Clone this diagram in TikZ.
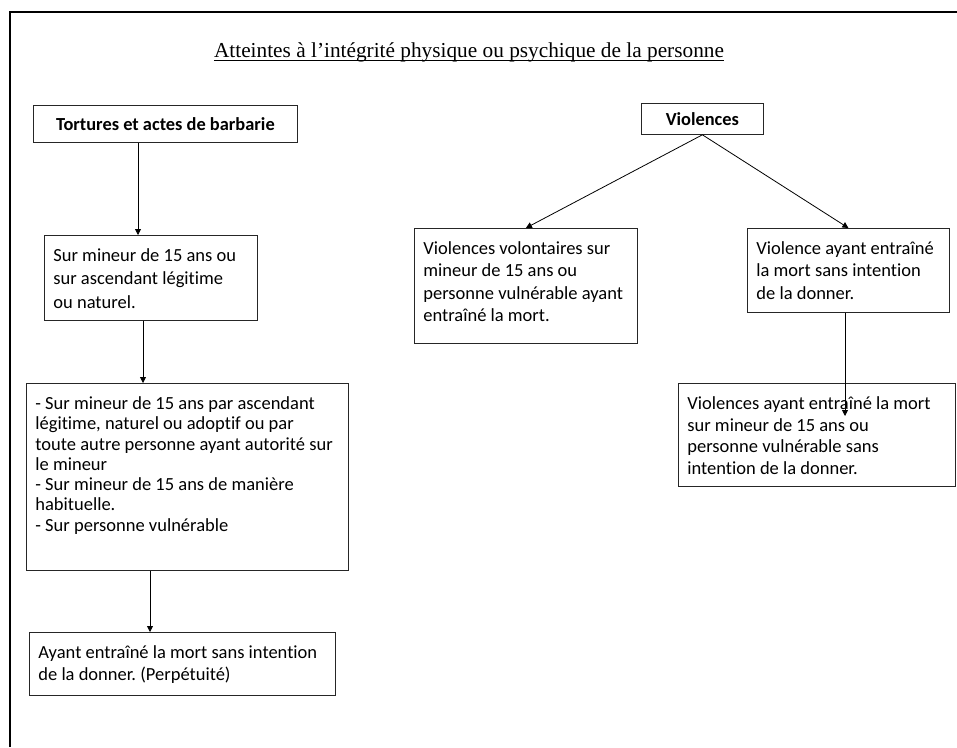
\documentclass[tikz,border=0pt]{standalone}
\usepackage{fontspec}
\setmainfont{Carlito}[Ligatures={NoCommon}]
\newfontfamily\titlefont{Liberation Serif}
\usetikzlibrary{arrows.meta}
\frenchspacing
\newcommand\bxtext[4]{\parbox[c][#2][t]{#1}{\fontsize{18.5}{#3}\selectfont\vspace{12pt}\rule{0pt}{14pt}#4}}
\tikzset{
  box/.style={draw=black!85, line width=0.8pt, anchor=north west, inner ysep=0pt, inner xsep=9pt, align=left},
  headbox/.style={draw=black!85, line width=0.8pt, anchor=north west, inner sep=0pt, align=center,
    font=\fontsize{18.4}{20}\selectfont\bfseries},
  arr/.style={draw=black, line width=0.8pt, -{Triangle[length=6pt,width=6pt]}},
}
\begin{document}
\begin{tikzpicture}[x=1pt,y=-1pt]
\useasboundingbox (0,0) rectangle (957,747);
\draw[line width=2.5pt] (10,747) -- (10,12) -- (957,12);
\node[font=\titlefont\fontsize{21.3}{24}\selectfont, inner sep=0pt, anchor=base] (title) at (469,57) {Atteintes à l’intégrité physique ou psychique de la personne};
\draw[line width=0.9pt] ([yshift=-3pt]title.base west) -- ([yshift=-3pt]title.base east);

\node[headbox, minimum width=264pt, minimum height=37pt] (b1) at (33,105) {Tortures et actes de barbarie};
\node[box] (b2) at (44,235) {\bxtext{195pt}{85pt}{23.3}{Sur mineur de 15 ans ou\\ sur ascendant légitime\\ ou naturel.}};
\node[box] (b3) at (26,383) {\bxtext{304pt}{187pt}{20.3}{- Sur mineur de 15 ans par ascendant\\ légitime, naturel ou adoptif ou par\\ toute autre personne ayant autorité sur\\ le mineur\\ - Sur mineur de 15 ans de manière\\ habituelle.\\ - Sur personne vulnérable}};
\node[box] (b4) at (29,632) {\bxtext{288pt}{63pt}{21.7}{Ayant entraîné la mort sans intention\\ de la donner. (Perpétuité)}};

\node[headbox, minimum width=122pt, minimum height=31pt] (v) at (641,103) {Violences};
\node[box] (b5) at (414,228) {\bxtext{205pt}{115pt}{22.4}{Violences volontaires sur\\ mineur de 15 ans ou\\ personne vulnérable ayant\\ entraîné la mort.}};
\node[box] (b6) at (747,228) {\bxtext{184pt}{84pt}{22.5}{Violence ayant entraîné\\ la mort sans intention\\ de la donner.}};
\node[box] (b7) at (678,383) {\bxtext{259pt}{103pt}{21.7}{Violences ayant entraîné la mort\\ sur mineur de 15 ans ou\\ personne vulnérable sans\\ intention de la donner.}};

\coordinate (x1) at (138,0);
\coordinate (x2) at (143,0);
\coordinate (x3) at (150,0);
\coordinate (x4) at (845,0);
\coordinate (e4) at (845,416);
\draw[arr] (b1.south -| x1) -- (b2.north -| x1);
\draw[arr] (b2.south -| x2) -- (b3.north -| x2);
\draw[arr] (b3.south -| x3) -- (b4.north -| x3);
\draw[arr] (v.south) -- (b5.north);
\draw[arr] (v.south) -- (b6.north);
\draw[arr] (b6.south -| x4) -- (e4);
\end{tikzpicture}
\end{document}
